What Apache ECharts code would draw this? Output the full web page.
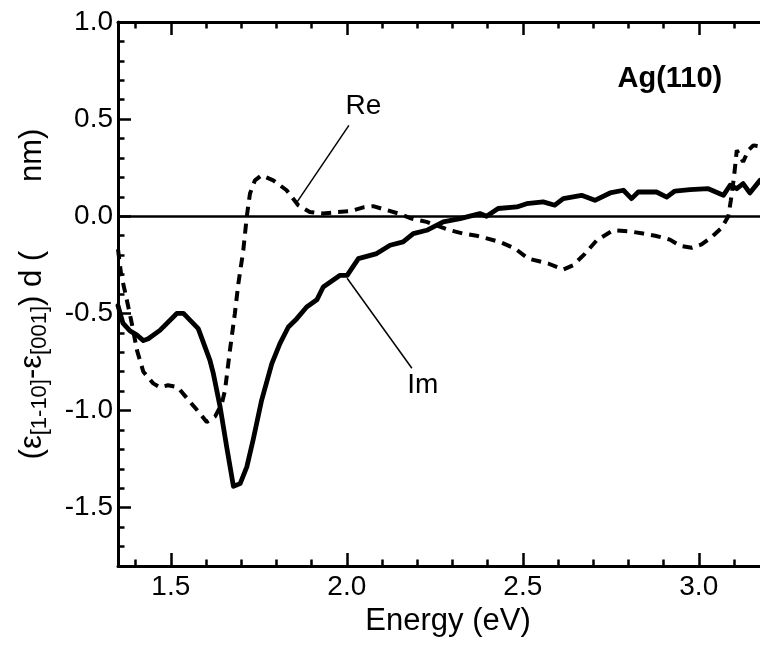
<!DOCTYPE html>
<html><head><meta charset="utf-8">
<script src="https://cdn.jsdelivr.net/npm/echarts@6/dist/echarts.min.js"></script>
<style>html,body{margin:0;padding:0;background:#fff}#c{width:760px;height:645px}</style>
</head><body><div id="c"></div>
<script>
// Im part (solid curve)
const imEnergy = [1.350,1.364,1.384,1.403,1.422,1.436,1.469,1.517,1.536,1.578,1.611,1.621,1.640,1.659,1.678,1.697,1.716,1.734,1.758,1.787,1.810,1.834,1.858,1.886,1.915,1.933,1.981,2.001,2.033,2.085,2.123,2.160,2.189,2.227,2.274,2.322,2.378,2.397,2.430,2.483,2.511,2.558,2.591,2.615,2.667,2.705,2.748,2.786,2.809,2.828,2.880,2.909,2.932,2.975,3.027,3.070,3.089,3.108,3.126,3.145,3.174];
const imValue = [-0.46,-0.55,-0.59,-0.61,-0.64,-0.63,-0.587,-0.50,-0.50,-0.578,-0.74,-0.81,-0.98,-1.19,-1.39,-1.376,-1.29,-1.15,-0.947,-0.758,-0.655,-0.57,-0.527,-0.467,-0.43,-0.364,-0.304,-0.304,-0.218,-0.192,-0.149,-0.132,-0.089,-0.072,-0.029,-0.012,0.014,0.0,0.04,0.048,0.065,0.074,0.057,0.091,0.108,0.082,0.12,0.134,0.091,0.125,0.125,0.099,0.13,0.137,0.142,0.108,0.16,0.142,0.168,0.12,0.185];
// Re part (dashed curve)
const reEnergy = [1.350,1.359,1.375,1.389,1.404,1.422,1.450,1.469,1.492,1.520,1.555,1.583,1.602,1.626,1.645,1.654,1.668,1.682,1.692,1.706,1.716,1.725,1.739,1.758,1.791,1.829,1.862,1.895,1.933,1.971,2.009,2.047,2.075,2.113,2.151,2.184,2.227,2.293,2.331,2.369,2.435,2.478,2.516,2.572,2.615,2.643,2.677,2.710,2.757,2.805,2.842,2.876,2.918,2.947,2.980,3.008,3.037,3.065,3.084,3.091,3.100,3.108,3.126,3.141,3.155,3.174];
const reValue = [-0.17,-0.30,-0.43,-0.55,-0.69,-0.80,-0.86,-0.88,-0.87,-0.88,-0.956,-1.015,-1.059,-1.03,-0.964,-0.896,-0.69,-0.50,-0.346,-0.175,0.0,0.117,0.185,0.211,0.185,0.134,0.057,0.022,0.014,0.022,0.026,0.046,0.052,0.032,0.012,-0.012,-0.029,-0.072,-0.089,-0.10,-0.132,-0.166,-0.218,-0.243,-0.274,-0.252,-0.192,-0.124,-0.072,-0.078,-0.089,-0.10,-0.12,-0.152,-0.162,-0.145,-0.106,-0.06,0.0,0.08,0.2,0.34,0.28,0.34,0.365,0.36];

// ticks
const xMajorTicks = [1.5, 2.0, 2.5, 3.0];
const xMinorTicks = [1.4,1.5,1.6,1.7,1.8,1.9,2.0,2.1,2.2,2.3,2.4,2.5,2.6,2.7,2.8,2.9,3.0,3.1];
const yMajorTicks = [-1.5, -1.0, -0.5, 0.0, 0.5, 1.0];
const yMinorTicks = [-1.7,-1.6,-1.5,-1.4,-1.3,-1.2,-1.1,-1.0,-0.9,-0.8,-0.7,-0.6,-0.5,-0.4,-0.3,-0.2,-0.1,0.0,0.1,0.2,0.3,0.4,0.5,0.6,0.7,0.8,0.9];

// annotations (data coordinates)
const reLeader = [[2.006, 0.468], [1.858, 0.072]];
const imLeader = [[2.001, -0.319], [2.185, -0.782]];
const annotations = [
  {text: 'Re', at: [2.047, 0.566], bold: false, size: 28},
  {text: 'Im', at: [2.216, -0.870], bold: false, size: 28},
  {text: 'Ag(110)', at: [2.918, 0.705], bold: true, size: 29}
];

const FONT = '"Liberation Sans", Arial, Helvetica, sans-serif';
const X_MIN = 1.35, X_MAX = 3.174, Y_MIN = -1.8, Y_MAX = 1.0;
const TICK_FS = 28, TITLE_FS = 31;

function xAxisDef(pos, ticks, len, withLine, withLabel) {
  return {
    type: 'value', position: pos, min: X_MIN, max: X_MAX,
    axisLine: {show: withLine, onZero: false, lineStyle: {color: '#000', width: 3}},
    axisTick: {show: true, inside: true, length: len, customValues: ticks, lineStyle: {color: '#000', width: 2.5}},
    axisLabel: withLabel ? {show: true, customValues: ticks, formatter: v => Number(v).toFixed(1),
      fontFamily: FONT, fontSize: TICK_FS, color: '#000', margin: 7} : {show: false},
    splitLine: {show: false}
  };
}
function yAxisDef(ticks, len, withLine, withLabel) {
  return {
    type: 'value', position: 'left', min: Y_MIN, max: Y_MAX,
    axisLine: {show: withLine, onZero: false, lineStyle: {color: '#000', width: 3}},
    axisTick: {show: true, inside: true, length: len, customValues: ticks, lineStyle: {color: '#000', width: 2.5}},
    axisLabel: withLabel ? {show: true, customValues: ticks, formatter: v => Number(v).toFixed(1),
      fontFamily: FONT, fontSize: TICK_FS, color: '#000', margin: 5} : {show: false},
    splitLine: {show: false}
  };
}

const chart = echarts.init(document.getElementById('c'), null, {renderer: 'canvas'});

const xb = xAxisDef('bottom', xMajorTicks, 13, true, true);
xb.name = 'Energy (eV)';
xb.nameLocation = 'middle';
xb.nameGap = 38;
// the original frame runs a little past the picture's right edge, so its title sits right of the visible centre
xb.nameTextStyle = {fontFamily: FONT, fontSize: TITLE_FS, color: '#000', padding: [0, 0, 0, 18]};

const yl = yAxisDef(yMajorTicks, 13, true, true);
yl.name = '{p|(ε}{s|[1-10]}{p|-ε}{s|[001]}{p|) d (        nm)}';
yl.nameLocation = 'middle';
yl.nameGap = 68;
yl.nameTextStyle = {
  fontFamily: FONT, fontSize: TITLE_FS, color: '#000',
  rich: {
    p: {fontFamily: FONT, fontSize: TITLE_FS, color: '#000', lineHeight: 36},
    s: {fontFamily: FONT, fontSize: 22, color: '#000', lineHeight: 22, padding: [15, 0, 0, 0]}
  }
};

chart.setOption({
  animation: false,
  backgroundColor: '#fff',
  grid: {left: 118, top: 22, right: 0, bottom: 79, containLabel: false},
  xAxis: [
    xb,
    xAxisDef('bottom', xMinorTicks, 6.5, false, false),
    xAxisDef('top', xMajorTicks, 13, true, false),
    xAxisDef('top', xMinorTicks, 6.5, false, false)
  ],
  yAxis: [
    yl,
    yAxisDef(yMinorTicks, 6.5, false, false)
  ],
  series: [
    {
      type: 'line', name: 'Im', xAxisIndex: 0, yAxisIndex: 0,
      data: imEnergy.map((e, i) => [e, imValue[i]]),
      showSymbol: false, symbol: 'none', smooth: false,
      lineStyle: {color: '#000', width: 4.8, join: 'round', cap: 'round'},
      markLine: {
        silent: true, symbol: ['none', 'none'], label: {show: false},
        lineStyle: {color: '#000', width: 2.5, type: 'solid'},
        data: [
          {yAxis: 0, lineStyle: {width: 2.5, color: '#000', type: 'solid'}},
          [{coord: reLeader[0], lineStyle: {width: 1.5, color: '#000', type: 'solid'}}, {coord: reLeader[1]}],
          [{coord: imLeader[0], lineStyle: {width: 1.5, color: '#000', type: 'solid'}}, {coord: imLeader[1]}]
        ]
      },
      z: 3
    },
    {
      type: 'line', name: 'Re', xAxisIndex: 0, yAxisIndex: 0,
      data: reEnergy.map((e, i) => [e, reValue[i]]),
      showSymbol: false, symbol: 'none', smooth: false,
      lineStyle: {color: '#000', width: 4, type: [10, 7]},
      z: 4
    }
  ]
});

const g = annotations.map(a => {
  const p = chart.convertToPixel({xAxisIndex: 0, yAxisIndex: 0}, a.at);
  return {
    type: 'text', x: p[0], y: p[1], z: 10,
    style: {
      text: a.text, fill: '#000', fontFamily: FONT, fontSize: a.size,
      fontWeight: a.bold ? 'bold' : 'normal', align: 'center', verticalAlign: 'middle'
    }
  };
});
chart.setOption({graphic: g});
</script>
</body></html>
